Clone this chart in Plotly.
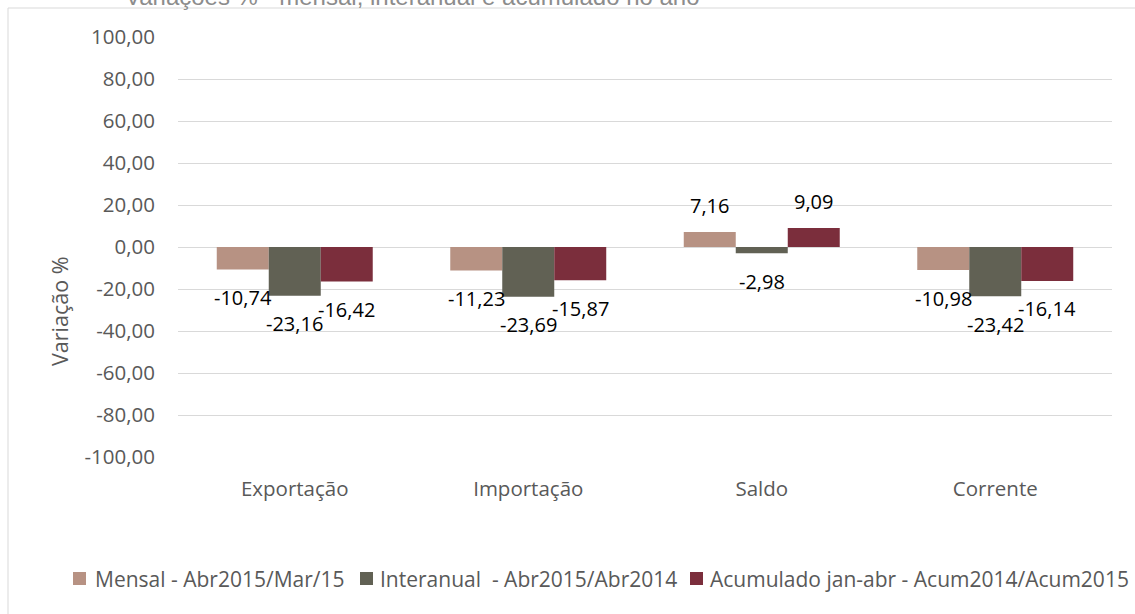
import plotly.graph_objects as go

categories = ["Exportação", "Importação", "Saldo", "Corrente"]
series_names = [
    "Mensal - Abr2015/Mar/15",
    "Interanual  - Abr2015/Abr2014",
    "Acumulado jan-abr - Acum2014/Acum2015",
]
mensal = [-10.74, -11.23, 7.16, -10.98]
interanual = [-23.16, -23.69, -2.98, -23.42]
acumulado = [-16.42, -15.87, 9.09, -16.14]
y_ticks = [100, 80, 60, 40, 20, 0, -20, -40, -60, -80, -100]

colors = ["#B79283", "#616154", "#7B2E3C"]
series_values = [mensal, interanual, acumulado]

W, H = 1135, 614
PLOT_L, PLOT_R, PLOT_T, PLOT_B = 178, 1112, 37, 457  # px
ML, MR, MT, MB = PLOT_L, W - PLOT_R, PLOT_T, H - PLOT_B
PW, PH = W - ML - MR, H - MT - MB
BARGAP = 0.332
FONT = "Open Sans"


def px_x(vx):
    return (vx - ML) / PW


def px_y(vy):
    return (H - MB - vy) / PH


def fmt(v):
    return f"{v:.2f}".replace(".", ",")


fig = go.Figure()
for name, vals, col in zip(series_names, series_values, colors):
    fig.add_trace(go.Bar(
        x=categories, y=vals, name=name, showlegend=False,
        marker=dict(color=col, line=dict(width=0)),
    ))

# data labels
n = len(series_values)
w = (1 - BARGAP) / n
annotations = []
for j, vals in enumerate(series_values):
    for i, v in enumerate(vals):
        annotations.append(dict(
            x=i + (j - (n - 1) / 2) * w, y=v, xref="x", yref="y",
            text=fmt(v), showarrow=False,
            yanchor="middle", yshift=26 if v >= 0 else -28,
            font=dict(family=FONT, size=20, color="#000000"),
        ))

# y-axis title
annotations.append(dict(
    x=px_x(59), y=px_y(312), xref="paper", yref="paper",
    text="Variação %", textangle=-90, showarrow=False,
    xanchor="center", yanchor="middle",
    font=dict(family=FONT, size=21.5, color="#595959"),
))

# chart title (cut at the top edge, as in the reference)
annotations.append(dict(
    x=px_x(412), y=px_y(-3), xref="paper", yref="paper",
    text="Variações % - mensal, interanual e acumulado no ano",
    showarrow=False, xanchor="center", yanchor="middle",
    font=dict(family="Liberation Sans", size=24, color="#8C8C8C"),
))

# legend (drawn manually to keep the reference's compact spacing)
legend_square_x = [73, 360, 690]
legend_text_x = [93, 378, 708]
LEG_Y = 578.5
shapes = []
for name, col, sx, tx in zip(series_names, colors, legend_square_x, legend_text_x):
    shapes.append(dict(
        type="rect", xref="paper", yref="paper",
        x0=px_x(sx), x1=px_x(sx + 13), y0=px_y(LEG_Y + 6.5), y1=px_y(LEG_Y - 6.5),
        line=dict(width=0), fillcolor=col,
    ))
    annotations.append(dict(
        x=px_x(tx), y=px_y(LEG_Y), xref="paper", yref="paper",
        text=name.replace("  ", "&nbsp; "), showarrow=False,
        xanchor="left", yanchor="middle",
        font=dict(family=FONT, size=21, color="#595959"),
    ))

# chart area border (only top/left visible in the crop)
shapes.append(dict(
    type="rect", xref="paper", yref="paper",
    x0=px_x(8), x1=px_x(W + 50), y0=px_y(H + 50), y1=px_y(8),
    line=dict(color="#D9D9D9", width=1), fillcolor="rgba(0,0,0,0)",
    layer="below",
))

fig.update_layout(
    width=W, height=H,
    margin=dict(l=ML, r=MR, t=MT, b=MB, autoexpand=False),
    paper_bgcolor="white", plot_bgcolor="white",
    barmode="group", bargap=BARGAP, bargroupgap=0,
    font=dict(family=FONT, color="#595959"),
    showlegend=False,
    xaxis=dict(
        showgrid=False, showline=False, ticks="",
        tickfont=dict(family=FONT, size=20.5, color="#595959"),
        ticklabelstandoff=17,
    ),
    yaxis=dict(
        range=[-100, 100], tickvals=y_ticks,
        ticktext=[fmt(t) for t in y_ticks],
        showgrid=True, gridcolor="#D9D9D9", gridwidth=1,
        zeroline=True, zerolinecolor="#D9D9D9", zerolinewidth=1,
        showline=False, ticks="",
        tickfont=dict(family=FONT, size=20.5, color="#595959"),
        ticklabelstandoff=22,
    ),
    annotations=annotations,
    shapes=shapes,
)

fig.write_html(
    "out.html",
    config={"displayModeBar": False},
    post_script="document.body.style.margin='0';document.body.style.overflow='hidden';",
)
